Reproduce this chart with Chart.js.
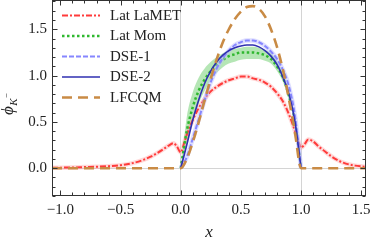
<!DOCTYPE html>
<html><head><meta charset="utf-8">
<script src="https://cdn.jsdelivr.net/npm/chart.js@4/dist/chart.umd.min.js"></script>
<style>html,body{margin:0;padding:0;background:#fff;overflow:hidden}</style>
</head><body>
<canvas id="c" width="374" height="243"></canvas>
<script>
// ---- data ----
const xTickLabels = [-1.0, -0.5, 0, 0.5, 1.0, 1.5];
const yTickLabels = [0, 0.5, 1.0, 1.5];
const seriesNames = ['Lat LaMET', 'Lat Mom', 'DSE-1', 'DSE-2', 'LFCQM'];

const xLaMET = [-1.07,-1.0,-0.9,-0.8,-0.7,-0.6,-0.5,-0.4,-0.3,-0.25,-0.2,-0.15,-0.1,-0.06,-0.03,0,0.03,0.05,0.1,0.15,0.2,0.25,0.3,0.35,0.4,0.45,0.5,0.55,0.6,0.65,0.7,0.75,0.8,0.85,0.9,0.95,0.98,1.0,1.03,1.06,1.1,1.15,1.2,1.25,1.3,1.35,1.4,1.45,1.5,1.54];
const yLaMET = [0.005,0.006,0.008,0.012,0.016,0.022,0.032,0.055,0.095,0.125,0.16,0.20,0.245,0.27,0.23,0.17,0.28,0.36,0.52,0.65,0.75,0.83,0.88,0.92,0.95,0.97,0.99,0.99,0.97,0.955,0.925,0.88,0.81,0.72,0.58,0.40,0.28,0.22,0.26,0.31,0.29,0.23,0.18,0.13,0.09,0.06,0.04,0.028,0.02,0.015];

const xUnit = [0,0.05,0.1,0.15,0.2,0.25,0.3,0.35,0.4,0.45,0.5,0.55,0.6,0.65,0.7,0.75,0.8,0.85,0.9,0.95,1.0];
const yLatMom   = [0,0.40,0.66,0.84,0.96,1.05,1.12,1.17,1.21,1.23,1.25,1.25,1.25,1.24,1.22,1.18,1.10,0.98,0.78,0.50,0];
const yLatMomUp = [0,0.55,0.82,0.98,1.08,1.15,1.20,1.24,1.27,1.29,1.30,1.31,1.31,1.30,1.28,1.24,1.16,1.03,0.83,0.54,0];
const yLatMomLo = [0,0.25,0.50,0.70,0.84,0.95,1.03,1.09,1.13,1.15,1.17,1.18,1.18,1.18,1.16,1.13,1.05,0.93,0.73,0.46,0];
const yDSE1 = [0,0.12,0.32,0.53,0.74,0.93,1.08,1.19,1.27,1.33,1.36,1.38,1.38,1.36,1.32,1.26,1.18,1.06,0.88,0.56,0];
const yDSE2 = [0,0.25,0.52,0.74,0.92,1.05,1.15,1.22,1.27,1.30,1.32,1.33,1.33,1.31,1.27,1.21,1.12,0.98,0.80,0.50,0];

const xLFCQM = [-1.07,0,0.05,0.1,0.15,0.2,0.25,0.3,0.35,0.4,0.45,0.5,0.55,0.6,0.65,0.7,0.75,0.8,0.85,0.9,0.95,1.0,1.54];
const yLFCQM = [0,0,0.10,0.28,0.50,0.74,0.97,1.18,1.36,1.50,1.61,1.69,1.74,1.75,1.72,1.64,1.50,1.31,1.06,0.74,0.38,0,0];

// ---- helpers ----
const pts = (xs, ys) => xs.map((x, i) => ({x: x, y: ys[i]}));
const near = (a, b) => Math.abs(a - b) < 1e-6;
const fmt = v => (v < 0 ? '\u2212' : '') + Math.abs(v).toFixed(1);

const COL = {
  lamet: '#ff3b3b', lametHalo: 'rgba(255,150,150,0.35)',
  mom: '#2fb82f', momBand: 'rgba(120,210,120,0.55)',
  dse1: '#8686ff', dse1Halo: 'rgba(190,190,255,0.5)',
  dse2: '#2f2fb0', lfcqm: '#c98b45'
};

const base = {pointRadius: 0, pointHoverRadius: 0, cubicInterpolationMode: 'monotone', fill: false};

const datasets = [
  Object.assign({}, base, {label: 'momUp', data: pts(xUnit, yLatMomUp), borderWidth: 0, borderColor: 'rgba(0,0,0,0)', backgroundColor: COL.momBand, fill: 1, order: 9}),
  Object.assign({}, base, {label: 'momLo', data: pts(xUnit, yLatMomLo), borderWidth: 0, borderColor: 'rgba(0,0,0,0)', order: 9}),
  Object.assign({}, base, {label: 'lametHalo', data: pts(xLaMET, yLaMET), borderWidth: 4.5, borderColor: COL.lametHalo, order: 8}),
  Object.assign({}, base, {label: seriesNames[0], data: pts(xLaMET, yLaMET), borderWidth: 2, borderColor: COL.lamet, borderDash: [6, 2, 2, 2], order: 6, legend: true}),
  Object.assign({}, base, {label: seriesNames[1], data: pts(xUnit, yLatMom), borderWidth: 2.5, borderColor: COL.mom, borderDash: [2.5, 2.5], order: 5, legend: true}),
  Object.assign({}, base, {label: 'dse1Halo', data: pts(xUnit, yDSE1), borderWidth: 4.5, borderColor: COL.dse1Halo, order: 4}),
  Object.assign({}, base, {label: seriesNames[2], data: pts(xUnit, yDSE1), borderWidth: 2, borderColor: COL.dse1, borderDash: [5, 2], order: 3, legend: true}),
  Object.assign({}, base, {label: seriesNames[3], data: pts(xUnit, yDSE2), borderWidth: 1.6, borderColor: COL.dse2, order: 2, legend: true}),
  Object.assign({}, base, {label: seriesNames[4], data: pts(xLFCQM, yLFCQM), borderWidth: 2.6, borderColor: COL.lfcqm, borderDash: [10, 6], order: 1, legend: true})
];

const FONT = "'Liberation Serif', 'DejaVu Serif', serif";

const framePlugin = {
  id: 'frame',
  afterDraw(chart) {
    const {ctx, chartArea: a, scales: {x, y}} = chart;
    ctx.save();
    ctx.strokeStyle = '#333';
    ctx.lineWidth = 1;
    const L = Math.round(a.left) + 0.5, R = Math.round(a.right) - 0.5;
    const T = Math.round(a.top) + 0.5, B = Math.round(a.bottom) - 0.5;
    ctx.strokeRect(L, T, R - L, B - T);
    ctx.beginPath();
    for (let k = -11; k <= 16; k++) {
      const v = k / 10;
      if (v < x.min || v > x.max) continue;
      const px = Math.round(x.getPixelForValue(v)) + 0.5;
      const len = (k % 5 === 0) ? 5 : 3;
      ctx.moveTo(px, B); ctx.lineTo(px, B - len);
      ctx.moveTo(px, T); ctx.lineTo(px, T + len);
    }
    for (let k = -3; k <= 18; k++) {
      const v = k / 10;
      if (v < y.min || v > y.max) continue;
      const py = Math.round(y.getPixelForValue(v)) + 0.5;
      const len = (k % 5 === 0) ? 5 : 3;
      ctx.moveTo(L, py); ctx.lineTo(L + len, py);
      ctx.moveTo(R, py); ctx.lineTo(R - len, py);
    }
    ctx.stroke();

    // legend
    const rows = chart.data.datasets.filter(d => d.legend);
    ctx.font = '15px ' + FONT;
    ctx.textBaseline = 'middle';
    rows.forEach((d, i) => {
      const yy = 15.5 + i * 20.5;
      ctx.beginPath();
      ctx.strokeStyle = d.borderColor;
      ctx.lineWidth = d.borderWidth;
      ctx.setLineDash(d.borderDash || []);
      ctx.moveTo(62, yy); ctx.lineTo(100, yy);
      ctx.stroke();
      ctx.setLineDash([]);
      ctx.fillStyle = '#222';
      ctx.fillText(d.label, 110, yy + 0.5);
    });

    // y-axis title  φ_{K^-}
    ctx.translate(13, 115);
    ctx.rotate(-Math.PI / 2);
    ctx.fillStyle = '#222';
    ctx.textBaseline = 'alphabetic';
    ctx.font = 'italic 17px ' + FONT;
    ctx.fillText('\u03D5', 0, 0);
    const w1 = ctx.measureText('\u03D5').width;
    ctx.font = 'italic 11px ' + FONT;
    ctx.fillText('K', w1 + 0.5, 3.5);
    const w2 = ctx.measureText('K').width;
    ctx.font = '9px ' + FONT;
    ctx.fillText('\u2212', w1 + w2 + 0.5, -4);
    ctx.restore();
  }
};

new Chart(document.getElementById('c'), {
  type: 'line',
  data: {datasets},
  options: {
    responsive: false,
    animation: false,
    events: [],
    layout: {padding: {top: 0, right: 8, bottom: 0, left: 0}},
    plugins: {legend: {display: false}, tooltip: {enabled: false}},
    scales: {
      x: {
        type: 'linear', min: -1.07, max: 1.54,
        afterBuildTicks: s => { s.ticks = xTickLabels.map(v => ({value: v})); },
        afterFit: s => { s.height = 47; s.paddingLeft = 0; s.paddingRight = 0; s.paddingTop = 0; s.paddingBottom = 0; },
        ticks: {autoSkip: false, maxRotation: 0, padding: 5, color: '#222', font: {family: FONT, size: 15}, callback: v => fmt(v)},
        grid: {drawTicks: false, lineWidth: 1, color: c => (c.tick && (near(c.tick.value, 0) || near(c.tick.value, 1))) ? '#d4d4d4' : 'rgba(0,0,0,0)'},
        border: {display: false},
        title: {display: true, text: 'x', color: '#222', font: {family: FONT, size: 17, style: 'italic'}, padding: {top: 0, bottom: 0}}
      },
      y: {
        type: 'linear', min: -0.30, max: 1.816,
        afterBuildTicks: s => { s.ticks = yTickLabels.map(v => ({value: v})); },
        afterFit: s => { s.width = 52; s.paddingTop = 0; s.paddingBottom = 0; s.paddingLeft = 0; s.paddingRight = 0; },
        ticks: {autoSkip: false, padding: 5, color: '#222', font: {family: FONT, size: 15}, callback: v => fmt(v)},
        grid: {drawTicks: false, lineWidth: 1, color: c => (c.tick && near(c.tick.value, 0)) ? '#d4d4d4' : 'rgba(0,0,0,0)'},
        border: {display: false}
      }
    }
  },
  plugins: [framePlugin]
});
</script>
</body></html>
